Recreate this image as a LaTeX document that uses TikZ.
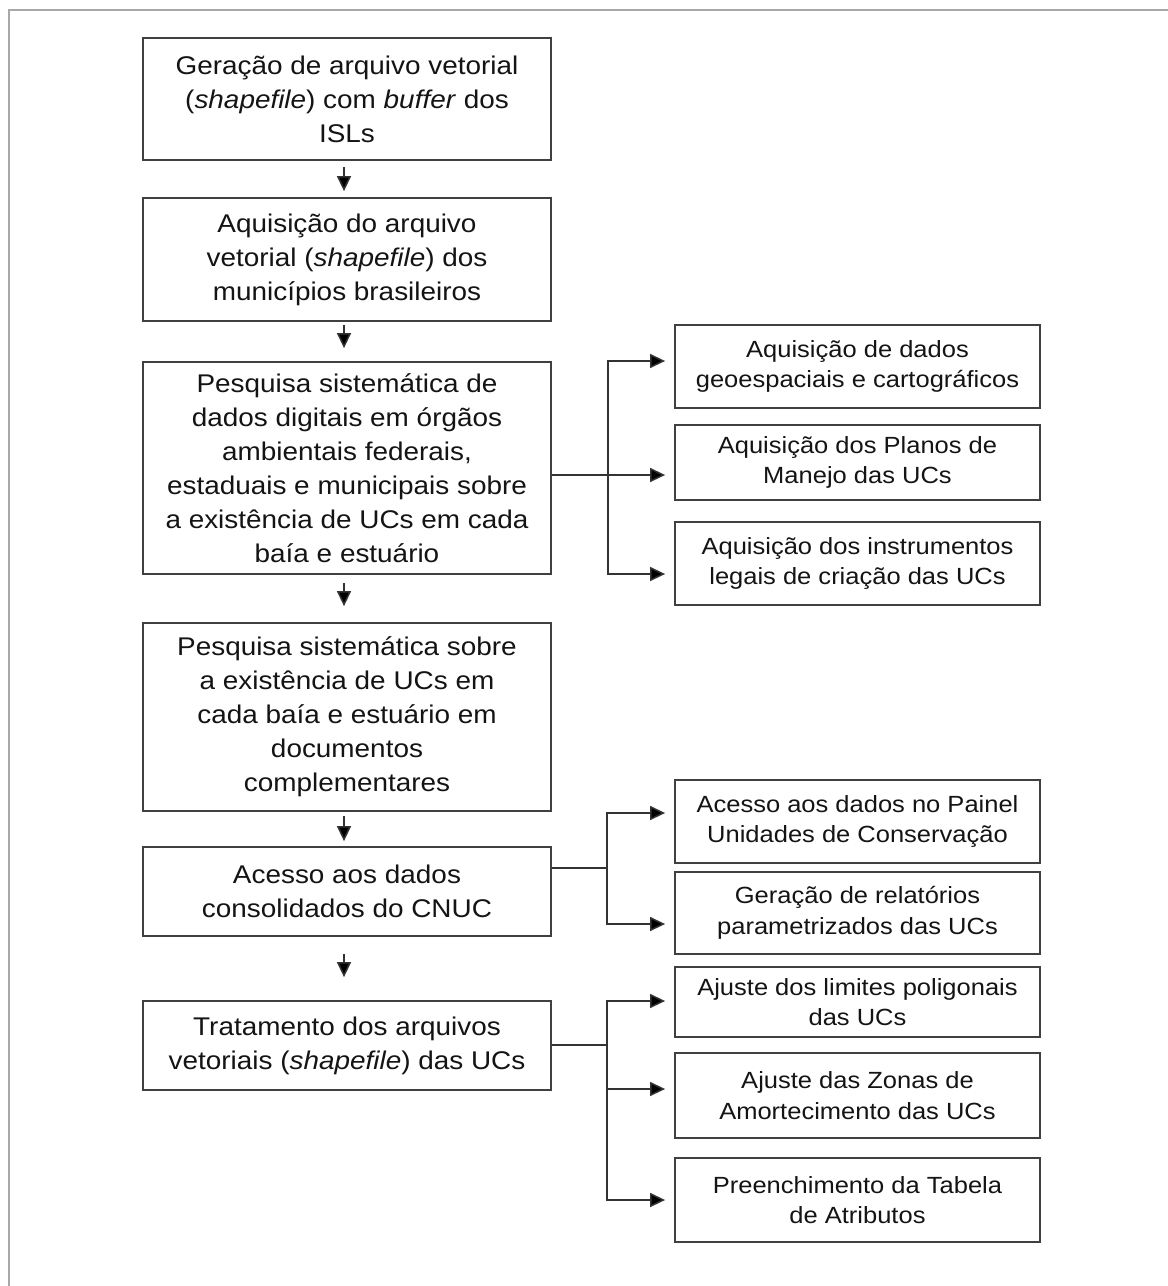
\documentclass[tikz,border=0pt]{standalone}
\usepackage{fontspec}
\setmainfont{Liberation Sans}[FakeStretch=1.09]
\usetikzlibrary{arrows.meta}
\definecolor{boxline}{HTML}{404040}
\definecolor{linec}{HTML}{333333}
\definecolor{txt}{HTML}{141414}
\definecolor{framec}{HTML}{A8A8A8}
\begin{document}
\begin{tikzpicture}[x=1pt,y=-1pt,
  mainbox/.style={draw=boxline, line width=1.8pt, minimum width=408pt, inner sep=0pt, align=center, text=txt, font=\fontsize{25.6}{34}\selectfont},
  sidebox/.style={draw=boxline, line width=1.8pt, minimum width=365pt, inner sep=0pt, align=center, text=txt, font=\fontsize{23.4}{30.5}\selectfont},
  link/.style={draw=linec, line width=1.5pt},
  arr/.style={link, -{Triangle[length=15pt,width=14pt,fill=black]}},
]
\useasboundingbox (0,0) rectangle (1168,1286);
\fill[white] (0,0) rectangle (1168,1286);
\draw[framec, line width=2pt] (9,1286) -- (9,10) -- (1168,10);

% main column
\node[mainbox, minimum height=122pt] (b1) at (347,99) {Geração de arquivo vetorial\\(\textit{shapefile}) com \textit{buffer} dos\\ISLs};
\node[mainbox, minimum height=123pt] (b2) at (347,259.5) {Aquisição do arquivo\\vetorial (\textit{shapefile}) dos\\municípios brasileiros};
\node[mainbox, minimum height=212pt] (b3) at (347,468) {Pesquisa sistemática de\\dados digitais em órgãos\\ambientais federais,\\estaduais e municipais sobre\\a existência de UCs em cada\\baía e estuário};
\node[mainbox, minimum height=188pt] (b4) at (347,717) {Pesquisa sistemática sobre\\a existência de UCs em\\cada baía e estuário em\\documentos\\complementares};
\node[mainbox, minimum height=89pt] (b5) at (347,891.5) {Acesso aos dados\\consolidados do CNUC};
\node[mainbox, minimum height=89pt] (b6) at (347,1045.5) {Tratamento dos arquivos\\vetoriais (\textit{shapefile}) das UCs};

% side boxes
\node[sidebox, minimum height=83pt] (r1) at (857.5,366.5) {Aquisição de dados\\geoespaciais e cartográficos};
\node[sidebox, minimum height=75pt] (r2) at (857.5,462.5) {Aquisição dos Planos de\\Manejo das UCs};
\node[sidebox, minimum height=83pt] (r3) at (857.5,563.5) {Aquisição dos instrumentos\\legais de criação das UCs};
\node[sidebox, minimum height=83pt] (r4) at (857.5,821.5) {Acesso aos dados no Painel\\Unidades de Conservação};
\node[sidebox, minimum height=82pt] (r5) at (857.5,913) {Geração de relatórios\\parametrizados das UCs};
\node[sidebox, minimum height=70pt] (r6) at (857.5,1002) {Ajuste dos limites poligonais\\das UCs};
\node[sidebox, minimum height=85pt] (r7) at (857.5,1095.5) {Ajuste das Zonas de\\Amortecimento das UCs};
\node[sidebox, minimum height=84pt] (r8) at (857.5,1200) {Preenchimento da Tabela\\de Atributos};

% vertical arrows
\draw[arr, shorten <=6pt, shorten >=6pt] ([xshift=-3pt]b1.south) -- ([xshift=-3pt]b2.north);
\draw[arr, shorten <=3pt, shorten >=13pt] ([xshift=-3pt]b2.south) -- ([xshift=-3pt]b3.north);
\draw[arr, shorten <=8pt, shorten >=16pt] ([xshift=-3pt]b3.south) -- ([xshift=-3pt]b4.north);
\draw[arr, shorten <=4pt, shorten >=5pt] ([xshift=-3pt]b4.south) -- ([xshift=-3pt]b5.north);
\draw[arr, shorten <=17pt, shorten >=23pt] ([xshift=-3pt]b5.south) -- ([xshift=-3pt]b6.north);

% branch from b3
\coordinate (j1) at (608,475);
\coordinate (e1) at (r1.west |- 0,361);
\coordinate (e2) at (r2.west |- 0,475);
\coordinate (e3) at (r3.west |- 0,574);
\draw[link] (b3.east |- j1) -- (j1);
\draw[arr, shorten >=9pt] (j1) |- (e1);
\draw[arr, shorten >=9pt] (j1) -- (e2);
\draw[arr, shorten >=9pt] (j1) |- (e3);

% branch from b5
\coordinate (j2) at (607,868);
\coordinate (e4) at (r4.west |- 0,813);
\coordinate (e5) at (r5.west |- 0,924);
\draw[link] (b5.east |- j2) -- (j2);
\draw[arr, shorten >=9pt] (j2) |- (e4);
\draw[arr, shorten >=9pt] (j2) |- (e5);

% branch from b6
\coordinate (j3) at (607,1045);
\coordinate (e6) at (r6.west |- 0,1001);
\coordinate (e7) at (r7.west |- 0,1089);
\coordinate (e8) at (r8.west |- 0,1200);
\draw[link] (b6.east |- j3) -- (j3);
\draw[arr, shorten >=9pt] (j3) |- (e6);
\draw[arr, shorten >=9pt] (j3) |- (e7);
\draw[arr, shorten >=9pt] (j3) |- (e8);
\end{tikzpicture}
\end{document}
